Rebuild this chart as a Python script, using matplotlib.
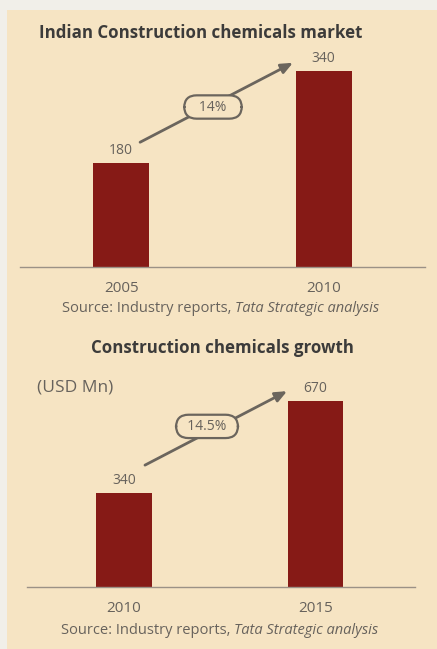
import matplotlib
matplotlib.use("Agg")
import matplotlib.pyplot as plt
from matplotlib.patches import Rectangle

plt.rcParams['font.family'] = ['Open Sans', 'DejaVu Sans']

# ---- data ----
top_title = "Indian Construction chemicals market"
top_years = ["2005", "2010"]
top_values = [180, 340]
top_growth = "14%"

bot_title = "Construction chemicals growth"
bot_unit = "(USD Mn)"
bot_years = ["2010", "2015"]
bot_values = [340, 670]
bot_growth = "14.5%"

source = "Source: Industry reports, "
source_it = "Tata Strategic analysis"

W, H = 437, 649
BG = "#f6e4c3"
BAR = "#861a16"
TXT = "#3c3b3a"
GRAY = "#67625c"
LINE = "#6b655d"

fig = plt.figure(figsize=(W / 100, H / 100), dpi=100)
fig.patch.set_facecolor("#f1efe9")
fig.add_artist(Rectangle((7 / W, 0), 1 - 7 / W, 1 - 10 / H, transform=fig.transFigure,
                         facecolor=BG, edgecolor="none", zorder=0))


def fx(px):
    return px / W


def fy(py):
    return 1 - py / H


def panel(left, right, bottom, top, xlim, ylim, years, values, width,
          growth, arr_start, arr_end, box_xy, box_pad):
    ax = fig.add_axes([fx(left), fy(bottom), fx(right - left), (bottom - top) / H])
    ax.set_facecolor("none")
    x = list(range(len(values)))
    ax.bar(x, values, width=width, color=BAR, zorder=2)
    ax.set_xlim(*xlim)
    ax.set_ylim(*ylim)
    for s in ["top", "right", "left"]:
        ax.spines[s].set_visible(False)
    ax.spines["bottom"].set_color("#9b9186")
    ax.spines["bottom"].set_linewidth(1.0)
    ax.set_yticks([])
    ax.set_xticks(x)
    ax.set_xticklabels(years, fontsize=11, color=GRAY)
    ax.tick_params(axis="x", length=0, pad=10)
    for xi, v in zip(x, values):
        ax.annotate(str(v), (xi, v), xytext=(0, 9), textcoords="offset points",
                    ha="center", va="center", fontsize=10, color=GRAY)
    ax.annotate("", xy=arr_end, xytext=arr_start,
                arrowprops=dict(arrowstyle="-|>,head_length=0.7,head_width=0.3",
                                color=LINE, lw=2.0, shrinkA=0, shrinkB=0),
                zorder=3)
    sp = " " * box_pad
    ax.text(box_xy[0], box_xy[1], sp + growth + sp, ha="center", va="center",
            fontsize=10, color=GRAY, zorder=4,
            bbox=dict(boxstyle="round,pad=0.3,rounding_size=0.9", fc=BG,
                      ec=LINE, lw=1.6))
    return ax


# top panel
panel(20, 425, 267, 40, (-0.5, 1.5), (0, 393), top_years, top_values, 0.277,
      top_growth, (0.093, top_values[0] * 1.2), (0.848, top_values[1] * 1.04),
      (0.453, 277), 3)
fig.text(fx(201), fy(33), top_title, ha="center", va="center", fontsize=12.2,
         fontweight="bold", color=TXT)

# bottom panel
panel(27, 415, 587, 380, (-0.507, 1.519), (0, 745), bot_years, bot_values, 0.29,
      bot_growth, (0.109, bot_values[0] * 1.29), (0.851, bot_values[1] * 1.052),
      (0.433, 578), 2)
fig.text(fx(222), fy(348), bot_title, ha="center", va="center", fontsize=12.2,
         fontweight="bold", color=TXT)
fig.text(fx(37), fy(387), bot_unit, ha="left", va="center", fontsize=12.5,
         color=GRAY)


def source_line(cx, cy):
    fig.text(fx(cx), fy(cy), source, ha="right", va="center", fontsize=10.5,
             color=GRAY)
    fig.text(fx(cx), fy(cy), source_it, ha="left", va="center", fontsize=10.5,
             color=GRAY, style="italic")


source_line(235, 308)
source_line(234, 630)

fig.savefig("out.png", dpi=100, facecolor=fig.get_facecolor())
